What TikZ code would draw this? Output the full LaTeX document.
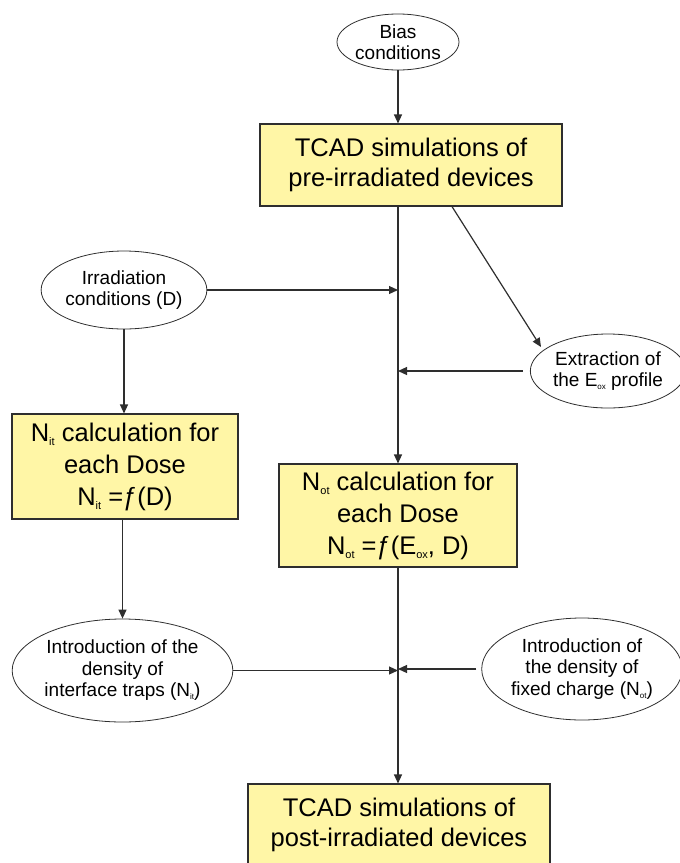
\documentclass[tikz,border=0pt]{standalone}
\usepackage{fontspec}
\setmainfont{Liberation Sans}
\usetikzlibrary{arrows.meta,shapes.geometric,positioning}
\definecolor{mfill}{HTML}{FFF6A6}
\definecolor{mline}{HTML}{2E2E2E}

\newcommand{\bsub}[1]{\raisebox{-0.35ex}{\fontsize{11}{11}\selectfont #1}}
\newcommand{\esub}[1]{\raisebox{-0.3ex}{\fontsize{8}{8}\selectfont #1}}

\begin{document}
\begin{tikzpicture}[x=1pt,y=-1pt,
        mbox/.style = {draw = mline, line width = 1.1pt, fill = mfill, inner sep = 0pt, align = center, font = \fontsize{25.5}{30}\selectfont},
        mboxb/.style = {mbox, font = \fontsize{25.5}{32}\selectfont},
        mell/.style = {ellipse, draw = mline, line width = 0.8pt, inner sep = 0pt, align = center, font = \fontsize{19}{21.5}\selectfont},
        marrow/.style = {mline, line width = 1.2pt, arrows = {-Triangle[length=9pt, width=8pt]}}
        ]
    \useasboundingbox (0,0) rectangle (680,863);

        \node[mell, minimum width = 122, minimum height = 56] (bias) at (398,42) {Bias\\conditions};
        \node[mbox, minimum width = 302, minimum height = 82] (pre) at (411,165) {TCAD simulations of\\pre-irradiated devices};

        \node[mell, minimum width = 156, minimum height = 78] (irr) at (124,290) {Irradiation\\conditions (D)};
        \node[mell, minimum width = 144, minimum height = 74] (ext) at (608,371) {Extraction of\\the E\esub{ox} profile};

        \node[mboxb, minimum width = 226, minimum height = 105] (nit) at (125,466.5) {N\bsub{it} calculation for\\each Dose\\N\bsub{it} =ƒ(D)};
        \node[mboxb, minimum width = 238, minimum height = 103] (not) at (398,515.5) {N\bsub{ot} calculation for\\each Dose\\N\bsub{ot} =ƒ(E\bsub{ox}, D)};

        \node[mell, minimum width = 219, minimum height = 103] (introL) at (122.5,670.5) {Introduction of the\\density of\\interface traps (N\esub{it})};
        \node[mell, minimum width = 196, minimum height = 102] (introR) at (582,669) {Introduction of\\the density of\\fixed charge (N\esub{ot})};

        \node[mbox, minimum width = 302, minimum height = 82] (post) at (399,825) {TCAD simulations of\\post-irradiated devices};

        \coordinate (exttip) at (541,347);

        \draw[marrow] (bias) -- (pre.north -| bias);
        \draw[marrow] (pre.south -| not.north) -- (not.north);
        \draw[marrow] ([xshift=41pt]pre.south) -- (exttip);
        \draw[marrow] (irr.east) -- (irr.east -| not.north);
        \draw[marrow] ([xshift=-7pt]ext.west) -- (ext.west -| not.north);
        \draw[marrow] (irr.south) -- (irr.south |- nit.north);
        \draw[marrow] (nit.south -| introL.north) -- (introL.north);
        \draw[marrow] (introL.east) -- (introL.east -| not.north);
        \draw[marrow] ([xshift=-5pt]introR.west) -- (introR.west -| not.north);
        \draw[marrow] (not.south) -- (post.north -| not.south);

    \end{tikzpicture}
\end{document}
